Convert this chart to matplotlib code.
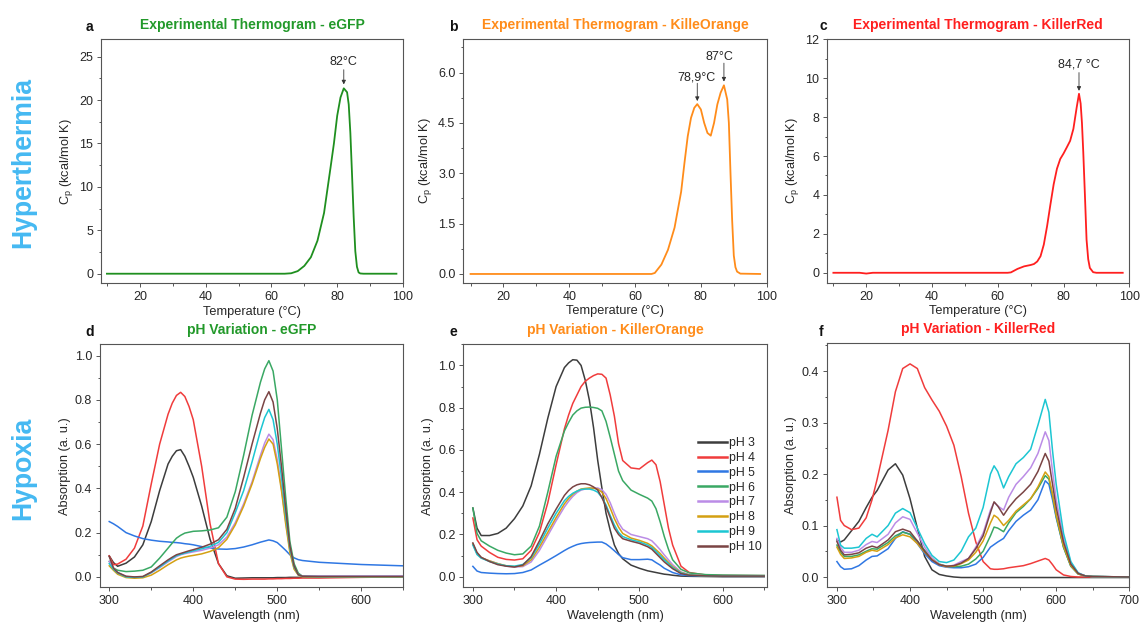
import matplotlib
matplotlib.use("Agg")
import matplotlib.pyplot as plt
from matplotlib.ticker import MultipleLocator, FormatStrFormatter

plt.rcParams['font.family'] = ['Liberation Sans', 'DejaVu Sans']

# ---------------- thermograms (DSC) ----------------
temp_egfp = [10, 20, 30, 40, 50, 60, 64, 66, 68, 70, 72, 74, 76, 78, 79, 80, 81, 82,
             83, 83.5, 84, 84.5, 85, 85.5, 86, 86.5, 87, 88, 90, 98]
cp_egfp = [0, 0, 0, 0, 0, 0, 0, 0.05, 0.3, 0.9, 1.9, 3.8, 7.0, 12.3, 15.0, 18.2, 20.3, 21.35,
           20.9, 19.5, 16.2, 11.5, 6.6, 2.6, 0.8, 0.15, 0.03, 0.0, 0.0, 0.0]

temp_korange = [10, 20, 30, 40, 50, 60, 65, 66, 68, 70, 72, 74, 75, 76, 77, 78, 78.9, 80,
                81, 82, 83, 84, 85, 86, 87, 88, 88.5, 89, 89.5, 90, 90.5, 91, 92, 98]
cp_korange = [0, 0, 0, 0, 0, 0, 0, 0.03, 0.28, 0.72, 1.38, 2.45, 3.3, 4.1, 4.65, 4.95, 5.06, 4.9,
              4.5, 4.2, 4.12, 4.5, 5.05, 5.4, 5.62, 5.2, 4.5, 3.0, 1.6, 0.55, 0.2, 0.07, 0.01, 0]

temp_kred = [10, 18, 20, 22, 30, 40, 50, 60, 63, 64, 66, 68, 70, 71, 72, 73, 74, 75, 76, 77,
             78, 79, 80, 81, 82, 83, 84, 84.7, 85.2, 85.6, 86, 86.5, 87, 87.5, 88, 89, 90, 98]
cp_kred = [0, 0, -0.04, 0, 0, 0, 0, 0, 0, 0.02, 0.2, 0.33, 0.4, 0.45, 0.58, 0.85, 1.45, 2.4, 3.5, 4.55,
           5.35, 5.85, 6.13, 6.45, 6.78, 7.4, 8.5, 9.2, 8.7, 7.7, 6.2, 4.0, 1.7, 0.7, 0.25, 0.03, 0.0, 0.0]

# peak annotations: (label, text x, text y, arrow x, arrow tail y, arrow tip y)
peaks_egfp = [("82°C", 82, 24.4, 82, 23.5, 21.8)]
peaks_korange = [("78,9°C", 78.7, 5.86, 78.9, 5.68, 5.15),
                 ("87°C", 85.5, 6.46, 87, 6.28, 5.73)]
peaks_kred = [("84,7 °C", 84.7, 10.68, 84.7, 10.29, 9.35)]

# ---------------- absorption spectra ----------------
ph_labels = ["pH 3", "pH 4", "pH 5", "pH 6", "pH 7", "pH 8", "pH 9", "pH 10"]
ph_colors = ["#3d3d3d", "#f03c3c", "#2f77e3", "#3aa864", "#bb8ce6", "#d4a012", "#1cc6d2", "#7a4444"]

wl_egfp = [300, 305, 310, 320, 330, 340, 350, 360, 370,
           375, 380, 385, 390, 395, 400,
           410, 420, 430, 440, 450, 460, 470, 480,
           485, 490, 495, 500, 505, 510, 515, 520, 525, 530,
           550, 600, 650]
abs_egfp = [
    # pH 3
    [0.095, 0.065, 0.048, 0.062, 0.09, 0.145, 0.25, 0.39, 0.51,
     0.545, 0.57, 0.575, 0.545, 0.5, 0.45,
     0.32, 0.17, 0.06, 0.005, -0.006, -0.005, -0.004, -0.004,
     -0.004, -0.004, -0.004, -0.003, -0.003, -0.003, -0.002, -0.002, -0.002, -0.002,
     -0.002, 0.0, 0.0],
    # pH 4
    [0.095, 0.055, 0.058, 0.08, 0.13, 0.23, 0.42, 0.6, 0.735,
     0.785, 0.82, 0.834, 0.815, 0.77, 0.71,
     0.5, 0.24, 0.06, 0.0, -0.01, -0.011, -0.01, -0.01,
     -0.01, -0.009, -0.009, -0.008, -0.008, -0.007, -0.007, -0.006, -0.006, -0.005,
     -0.005, -0.002, 0.0],
    # pH 5
    [0.25, 0.24, 0.228, 0.2, 0.185, 0.173, 0.166, 0.161, 0.158,
     0.156, 0.155, 0.153, 0.15, 0.148, 0.145,
     0.137, 0.13, 0.126, 0.125, 0.128, 0.135, 0.145, 0.157,
     0.162, 0.167, 0.163, 0.155, 0.138, 0.12, 0.1, 0.086, 0.078, 0.074,
     0.066, 0.056, 0.05],
    # pH 6
    [0.07, 0.04, 0.03, 0.024, 0.026, 0.03, 0.045, 0.085, 0.13,
     0.153, 0.175, 0.188, 0.198, 0.202, 0.206,
     0.208, 0.212, 0.222, 0.27, 0.385, 0.55, 0.73, 0.88,
     0.94, 0.977, 0.93, 0.8, 0.58, 0.36, 0.16, 0.06, 0.017, 0.003,
     0.002, 0.002, 0.002],
    # pH 7
    [0.07, 0.04, 0.02, 0.002, -0.002, 0.0, 0.018, 0.042, 0.068,
     0.08, 0.092, 0.1, 0.105, 0.109, 0.113,
     0.12, 0.13, 0.145, 0.18, 0.245, 0.33, 0.43, 0.55,
     0.605, 0.645, 0.62, 0.53, 0.4, 0.25, 0.12, 0.04, 0.01, 0.004,
     0.004, 0.004, 0.004],
    # pH 8
    [0.05, 0.03, 0.012, -0.003, -0.006, -0.004, 0.008, 0.03, 0.055,
     0.066, 0.077, 0.085, 0.09, 0.094, 0.097,
     0.104, 0.115, 0.132, 0.17, 0.235, 0.32, 0.42, 0.535,
     0.585, 0.623, 0.6, 0.51, 0.39, 0.24, 0.11, 0.035, 0.008, 0.001,
     0.0, 0.0, 0.0],
    # pH 9
    [0.06, 0.035, 0.018, 0.0, -0.002, 0.0, 0.02, 0.045, 0.072,
     0.084, 0.096, 0.102, 0.108, 0.113, 0.118,
     0.127, 0.138, 0.156, 0.2, 0.29, 0.39, 0.52, 0.66,
     0.72, 0.757, 0.71, 0.6, 0.45, 0.28, 0.13, 0.045, 0.01, 0.002,
     0.001, 0.001, 0.001],
    # pH 10
    [0.092, 0.04, 0.02, 0.003, 0.0, 0.002, 0.022, 0.05, 0.077,
     0.089, 0.1, 0.106, 0.112, 0.118, 0.123,
     0.134, 0.148, 0.168, 0.215, 0.31, 0.45, 0.6, 0.74,
     0.8, 0.837, 0.79, 0.67, 0.5, 0.31, 0.14, 0.05, 0.01, 0.003,
     0.002, 0.002, 0.002],
]

wl_korange = [300, 305, 310, 320, 330, 340, 350, 360, 370, 380, 390, 400,
              410, 415, 420, 425, 430, 435, 440, 445, 450, 455, 460, 465, 470, 475, 480,
              490, 500, 510, 515, 520, 525, 530, 535, 540,
              550, 560, 580, 600, 650]
abs_korange = [
    # pH 3
    [0.325, 0.23, 0.195, 0.195, 0.205, 0.23, 0.275, 0.335, 0.43, 0.58, 0.75, 0.9,
     0.99, 1.012, 1.027, 1.025, 1.0, 0.93, 0.835, 0.705, 0.55, 0.42, 0.3, 0.22, 0.15, 0.11, 0.085,
     0.055, 0.04, 0.028, 0.024, 0.02, 0.016, 0.012, 0.01, 0.007,
     0.003, 0.002, 0.001, 0.0, 0.0],
    # pH 4
    [0.278, 0.175, 0.145, 0.115, 0.092, 0.082, 0.079, 0.085, 0.125, 0.21, 0.35, 0.53,
     0.7, 0.765, 0.82, 0.86, 0.9, 0.925, 0.94, 0.952, 0.96, 0.958, 0.94, 0.86, 0.76, 0.63, 0.55,
     0.515, 0.51, 0.54, 0.552, 0.53, 0.45, 0.34, 0.23, 0.15,
     0.05, 0.02, 0.008, 0.006, 0.005],
    # pH 5
    [0.049, 0.027, 0.02, 0.017, 0.015, 0.014, 0.015, 0.02, 0.032, 0.055, 0.077, 0.1,
     0.124, 0.135, 0.144, 0.152, 0.157, 0.16, 0.162, 0.163, 0.164, 0.164, 0.155, 0.14, 0.123, 0.105, 0.09,
     0.081, 0.081, 0.083, 0.08, 0.067, 0.055, 0.04, 0.03, 0.02,
     0.009, 0.005, 0.003, 0.002, 0.002],
    # pH 6
    [0.325, 0.205, 0.17, 0.145, 0.125, 0.112, 0.104, 0.108, 0.145, 0.24, 0.4, 0.57,
     0.69, 0.73, 0.765, 0.785, 0.798, 0.802, 0.803, 0.801, 0.797, 0.785, 0.735, 0.66, 0.58, 0.5, 0.455,
     0.41, 0.39, 0.372, 0.358, 0.322, 0.26, 0.19, 0.13, 0.08,
     0.035, 0.018, 0.01, 0.008, 0.006],
    # pH 7
    [0.155, 0.11, 0.09, 0.075, 0.062, 0.05, 0.046, 0.048, 0.07, 0.125, 0.195, 0.265,
     0.33, 0.357, 0.38, 0.398, 0.41, 0.415, 0.418, 0.42, 0.42, 0.412, 0.39, 0.35, 0.3, 0.255, 0.225,
     0.2, 0.19, 0.18, 0.17, 0.15, 0.128, 0.103, 0.08, 0.057,
     0.023, 0.01, 0.004, 0.003, 0.003],
    # pH 8
    [0.155, 0.11, 0.09, 0.075, 0.062, 0.052, 0.048, 0.052, 0.08, 0.14, 0.21, 0.28,
     0.345, 0.37, 0.39, 0.405, 0.415, 0.418, 0.42, 0.419, 0.415, 0.4, 0.37, 0.325, 0.275, 0.235, 0.205,
     0.183, 0.172, 0.158, 0.146, 0.128, 0.11, 0.088, 0.068, 0.048,
     0.02, 0.009, 0.004, 0.003, 0.003],
    # pH 9
    [0.15, 0.105, 0.088, 0.072, 0.06, 0.052, 0.05, 0.058, 0.09, 0.155, 0.23, 0.3,
     0.36, 0.38, 0.395, 0.405, 0.413, 0.415, 0.415, 0.41, 0.4, 0.375, 0.34, 0.29, 0.245, 0.21, 0.19,
     0.175, 0.165, 0.15, 0.138, 0.12, 0.1, 0.08, 0.062, 0.043,
     0.018, 0.008, 0.004, 0.003, 0.003],
    # pH 10
    [0.16, 0.115, 0.092, 0.072, 0.057, 0.05, 0.046, 0.055, 0.095, 0.17, 0.25, 0.32,
     0.385, 0.408, 0.425, 0.435, 0.44, 0.44, 0.435, 0.425, 0.41, 0.375, 0.33, 0.28, 0.23, 0.2, 0.18,
     0.168, 0.158, 0.142, 0.13, 0.11, 0.09, 0.07, 0.054, 0.038,
     0.015, 0.007, 0.004, 0.003, 0.003],
]

wl_kred = [300, 305, 310, 320, 330, 340, 348, 355, 370, 380, 390, 400, 410, 420, 430, 440, 450, 460, 470, 480,
           490, 500, 510, 515, 520, 528, 535, 545, 555, 565, 575, 585, 590, 595, 600, 610, 620, 630, 640, 650, 700]
abs_kred = [
    # pH 3
    [0.072, 0.068, 0.072, 0.09, 0.108, 0.135, 0.155, 0.168, 0.208, 0.22, 0.198, 0.152, 0.095, 0.04, 0.014, 0.005, 0.002,
     0.0, -0.001, -0.001, -0.001, -0.001, -0.001, -0.001, -0.001, -0.001, -0.001, -0.001, -0.001, -0.001, -0.001,
     -0.001, -0.001, -0.001, -0.001, -0.001, -0.001, -0.001, -0.001, -0.001, -0.001],
    # pH 4
    [0.155, 0.11, 0.1, 0.092, 0.095, 0.115, 0.15, 0.19, 0.285, 0.36, 0.405, 0.414, 0.405, 0.368, 0.344, 0.322, 0.293,
     0.256, 0.195, 0.124, 0.068, 0.03, 0.016, 0.015, 0.015, 0.016, 0.018, 0.02, 0.022, 0.026, 0.031, 0.036, 0.033,
     0.024, 0.014, 0.004, 0.001, 0.0, 0.0, 0.0, 0.0],
    # pH 5
    [0.03, 0.02, 0.015, 0.016, 0.022, 0.033, 0.04, 0.041, 0.055, 0.075, 0.088, 0.083, 0.065, 0.045, 0.03, 0.022, 0.019,
     0.018, 0.018, 0.02, 0.025, 0.038, 0.058, 0.063, 0.068, 0.075, 0.09, 0.108, 0.12, 0.13, 0.15, 0.187, 0.18,
     0.15, 0.115, 0.058, 0.021, 0.006, 0.002, 0.001, 0.0],
    # pH 6
    [0.062, 0.048, 0.04, 0.04, 0.043, 0.05, 0.055, 0.054, 0.067, 0.08, 0.087, 0.083, 0.07, 0.052, 0.036, 0.025, 0.021,
     0.02, 0.021, 0.025, 0.035, 0.05, 0.08, 0.097, 0.095, 0.088, 0.105, 0.125, 0.137, 0.152, 0.172, 0.197, 0.19,
     0.158, 0.118, 0.058, 0.021, 0.006, 0.002, 0.001, 0.0],
    # pH 7
    [0.075, 0.058, 0.048, 0.048, 0.052, 0.063, 0.069, 0.067, 0.083, 0.105, 0.117, 0.112, 0.085, 0.058, 0.037, 0.025, 0.02,
     0.023, 0.03, 0.036, 0.058, 0.085, 0.13, 0.145, 0.138, 0.13, 0.155, 0.18, 0.195, 0.212, 0.24, 0.282, 0.265,
     0.205, 0.15, 0.075, 0.028, 0.008, 0.002, 0.001, 0.0],
    # pH 8
    [0.058, 0.044, 0.036, 0.037, 0.04, 0.048, 0.052, 0.05, 0.063, 0.076, 0.082, 0.078, 0.065, 0.048, 0.034, 0.024, 0.02,
     0.021, 0.026, 0.033, 0.048, 0.07, 0.105, 0.12, 0.115, 0.1, 0.11, 0.128, 0.14, 0.152, 0.175, 0.204, 0.195,
     0.16, 0.12, 0.06, 0.022, 0.006, 0.002, 0.001, 0.0],
    # pH 9
    [0.092, 0.062, 0.056, 0.056, 0.058, 0.075, 0.083, 0.078, 0.1, 0.124, 0.133, 0.125, 0.095, 0.065, 0.042, 0.03, 0.028,
     0.033, 0.05, 0.078, 0.095, 0.135, 0.2, 0.216, 0.205, 0.173, 0.195, 0.22, 0.232, 0.248, 0.295, 0.345, 0.32,
     0.245, 0.18, 0.085, 0.03, 0.008, 0.002, 0.001, 0.0],
    # pH 10
    [0.069, 0.052, 0.043, 0.044, 0.047, 0.056, 0.06, 0.057, 0.072, 0.088, 0.093, 0.088, 0.07, 0.05, 0.033, 0.024, 0.021,
     0.022, 0.027, 0.036, 0.055, 0.08, 0.125, 0.146, 0.138, 0.12, 0.135, 0.152, 0.165, 0.18, 0.205, 0.24, 0.225,
     0.18, 0.135, 0.068, 0.025, 0.007, 0.002, 0.001, 0.0],
]

# ---------------- figure ----------------
W, H = 1141, 623
fig = plt.figure(figsize=(W / 100, H / 100), dpi=100)


def px_axes(left, top, right, bottom):
    return fig.add_axes([left / W, 1 - bottom / H, (right - left) / W, (bottom - top) / H])


GREEN, ORANGE, RED = "#1f8f1f", "#ff8c1a", "#ff1f1f"
TITLE_GREEN = "#22992a"
SIDE_BLUE = "#45b9f2"
TICK_FS = 9.0
LABEL_FS = 9.2
TITLE_FS = 10
TEXT_COLOR = "#262626"


def style(ax, xmaj, xmin, ymaj, ymin):
    for s in ax.spines.values():
        s.set_color("#555555")
        s.set_linewidth(0.8)
    ax.xaxis.set_major_locator(MultipleLocator(xmaj))
    ax.xaxis.set_minor_locator(MultipleLocator(xmin))
    ax.yaxis.set_major_locator(MultipleLocator(ymaj))
    ax.yaxis.set_minor_locator(MultipleLocator(ymin))
    ax.tick_params(which="both", direction="out", top=False, right=False,
                   colors="#555555", labelcolor=TEXT_COLOR, labelsize=TICK_FS, width=0.7)
    ax.tick_params(which="major", length=3.2, pad=2.5)
    ax.tick_params(which="minor", length=1.8)


def title(ax, text, color, letter, fig_letter_xy):
    ax.text(0.5, 1.058, text, transform=ax.transAxes, ha="center", va="center",
            fontsize=TITLE_FS, fontweight="bold", color=color)
    fig.text(fig_letter_xy[0] / W, 1 - fig_letter_xy[1] / H, letter, ha="center", va="center",
             fontsize=10, fontweight="bold", color="#111111")


def annotate_peaks(ax, peaks):
    for label, tx, ty, ax_x, tail, tip in peaks:
        ax.text(tx, ty, label, ha="center", va="center", fontsize=TICK_FS, color=TEXT_COLOR)
        ax.annotate("", xy=(ax_x, tip), xytext=(ax_x, tail),
                    arrowprops=dict(arrowstyle="-|>", color="#333333", lw=0.6,
                                    mutation_scale=6, shrinkA=0, shrinkB=0))


cp_label = r"C$_{\mathregular{p}}$ (kcal/mol K)"

# a
ax_a = px_axes(101, 39.3, 403, 283)
ax_a.plot(temp_egfp, cp_egfp, color=GREEN, lw=1.3)
ax_a.set_xlim(8.2, 100)
ax_a.set_ylim(-1.07, 27.0)
style(ax_a, 20, 10, 5, 2.5)
annotate_peaks(ax_a, peaks_egfp)
title(ax_a, "Experimental Thermogram - eGFP", TITLE_GREEN, "a", (89, 27))

# b
ax_b = px_axes(463.3, 39.3, 766.7, 282.7)
ax_b.plot(temp_korange, cp_korange, color=ORANGE, lw=1.3)
ax_b.set_xlim(7.8, 100)
ax_b.set_ylim(-0.26, 6.99)
style(ax_b, 20, 10, 1.5, 0.75)
ax_b.yaxis.set_major_formatter(FormatStrFormatter("%.1f"))
annotate_peaks(ax_b, peaks_korange)
title(ax_b, "Experimental Thermogram - KilleOrange", ORANGE, "b", (453, 27))

# c
ax_c = px_axes(827.3, 39.3, 1129.3, 282.7)
ax_c.plot(temp_kred, cp_kred, color=RED, lw=1.3)
ax_c.set_xlim(8.15, 100)
ax_c.set_ylim(-0.51, 12)
style(ax_c, 20, 10, 2, 1)
annotate_peaks(ax_c, peaks_kred)
title(ax_c, "Experimental Thermogram - KillerRed", RED, "c", (823, 26.5))

for ax in (ax_a, ax_b, ax_c):
    ax.set_xlabel("Temperature (°C)", fontsize=LABEL_FS, color=TEXT_COLOR, labelpad=2)
    ax.set_ylabel(cp_label, fontsize=LABEL_FS, color=TEXT_COLOR, labelpad=3)

# d
ax_d = px_axes(100, 344.3, 403.3, 587.3)
for vals, col in zip(abs_egfp, ph_colors):
    ax_d.plot(wl_egfp, vals, color=col, lw=1.1)
ax_d.set_xlim(289, 650)
ax_d.set_ylim(-0.047, 1.051)
style(ax_d, 100, 50, 0.2, 0.1)
ax_d.yaxis.set_major_formatter(FormatStrFormatter("%.1f"))
title(ax_d, "pH Variation - eGFP", TITLE_GREEN, "d", (90, 332))

# e
ax_e = px_axes(463.3, 344.3, 766.7, 587.3)
for vals, col, lab in zip(abs_korange, ph_colors, ph_labels):
    ax_e.plot(wl_korange, vals, color=col, lw=1.1, label=lab)
ax_e.set_xlim(288.5, 653)
ax_e.set_ylim(-0.05, 1.10)
style(ax_e, 100, 50, 0.2, 0.1)
ax_e.yaxis.set_major_formatter(FormatStrFormatter("%.1f"))
leg = ax_e.legend(loc="upper left", bbox_to_anchor=(0.772, 0.618), frameon=False, fontsize=8.8,
                  handlelength=2.4, handletextpad=0.2, labelspacing=0.23, borderpad=0, borderaxespad=0)
for line in leg.get_lines():
    line.set_linewidth(1.8)
for txt in leg.get_texts():
    txt.set_color(TEXT_COLOR)
title(ax_e, "pH Variation - KillerOrange", ORANGE, "e", (453, 332))

# f
ax_f = px_axes(826.7, 343.3, 1129.3, 587.3)
for vals, col in zip(abs_kred, ph_colors):
    ax_f.plot(wl_kred, vals, color=col, lw=1.1)
ax_f.set_xlim(286, 700)
ax_f.set_ylim(-0.02, 0.454)
style(ax_f, 100, 50, 0.1, 0.05)
ax_f.yaxis.set_major_formatter(FormatStrFormatter("%.1f"))
title(ax_f, "pH Variation - KillerRed", RED, "f", (821, 332))

for ax in (ax_d, ax_e, ax_f):
    ax.set_xlabel("Wavelength (nm)", fontsize=LABEL_FS, color=TEXT_COLOR, labelpad=2)
    ax.set_ylabel("Absorption (a. u.)", fontsize=LABEL_FS, color=TEXT_COLOR, labelpad=3)

# row labels
fig.text(23 / W, 1 - 162.5 / H, "Hyperthermia", rotation=90, ha="center", va="center",
         fontsize=19.2, fontweight="bold", color=SIDE_BLUE)
fig.text(23 / W, 1 - 468 / H, "Hypoxia", rotation=90, ha="center", va="center",
         fontsize=19.2, fontweight="bold", color=SIDE_BLUE)

fig.savefig("out.png", dpi=100, facecolor="white")
